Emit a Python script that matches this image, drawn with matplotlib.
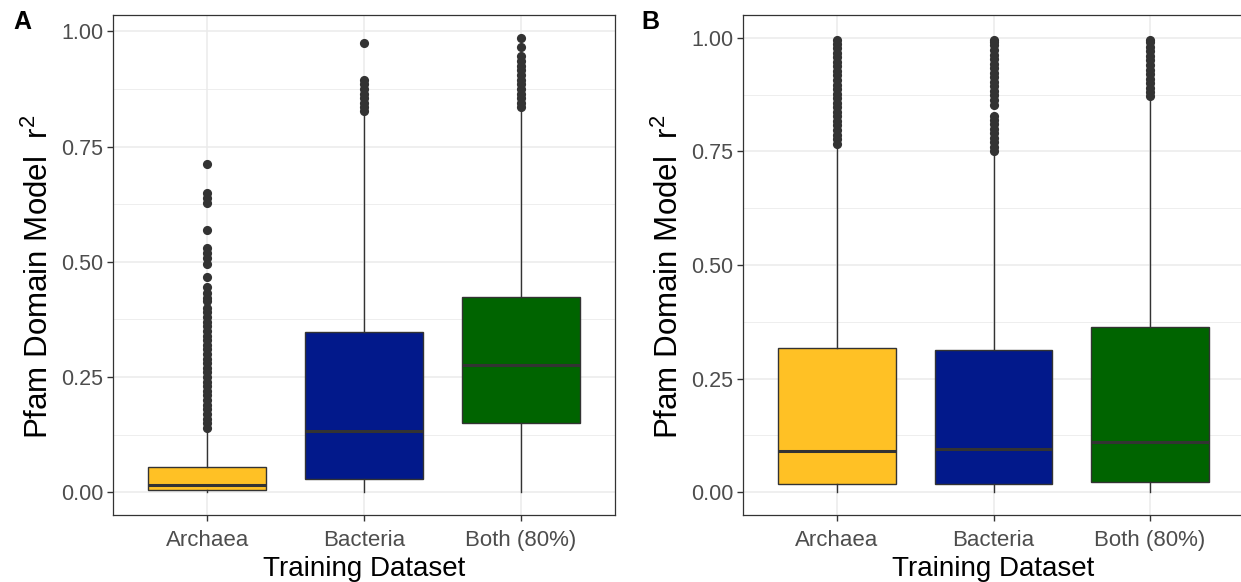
import numpy as np
import matplotlib.pyplot as plt
from matplotlib.ticker import MultipleLocator

plt.rcParams['font.family'] = ['Liberation Sans', 'DejaVu Sans']
plt.rcParams['mathtext.fontset'] = 'custom'
plt.rcParams['mathtext.rm'] = 'Liberation Sans'

# categories and colours
groups = ['Archaea', 'Bacteria', 'Both (80%)']
fills = ['#FFC125', '#02198B', '#006400']

# panel A box statistics (whisker low, q1, median, q3, whisker high)
a_whislo = [0.0, 0.0, 0.0]
a_q1 = [0.004, 0.028, 0.151]
a_med = [0.016, 0.133, 0.277]
a_q3 = [0.055, 0.347, 0.424]
a_whishi = [0.134, 0.822, 0.830]
a_fliers = [
    [0.14, 0.15, 0.16, 0.17, 0.18, 0.19, 0.20, 0.21, 0.22, 0.23, 0.24, 0.25,
     0.26, 0.27, 0.28, 0.29, 0.30, 0.31, 0.32, 0.33, 0.34, 0.35, 0.36, 0.37,
     0.38, 0.39, 0.40, 0.415, 0.422, 0.433, 0.446, 0.468, 0.496, 0.509,
     0.520, 0.530, 0.570, 0.628, 0.638, 0.649, 0.713],
    [0.827, 0.835, 0.845, 0.855, 0.865, 0.875, 0.885, 0.894, 0.975],
    [0.836, 0.845, 0.855, 0.865, 0.875, 0.885, 0.895, 0.905, 0.915, 0.925,
     0.935, 0.947, 0.966, 0.986],
]

# panel B box statistics
b_whislo = [0.0, 0.0, 0.0]
b_q1 = [0.018, 0.019, 0.022]
b_med = [0.091, 0.095, 0.111]
b_q3 = [0.317, 0.312, 0.364]
b_whishi = [0.765, 0.748, 0.868]
b_fliers = [
    [0.767, 0.777, 0.787, 0.797, 0.807, 0.817, 0.827, 0.837, 0.847, 0.857,
     0.867, 0.877, 0.887, 0.897, 0.907, 0.917, 0.927, 0.937, 0.947, 0.957,
     0.967, 0.977, 0.987, 0.996],
    [0.751, 0.760, 0.770, 0.780, 0.790, 0.800, 0.810, 0.820, 0.828,
     0.853, 0.863, 0.873, 0.883, 0.893, 0.903, 0.913, 0.923, 0.933, 0.943,
     0.953, 0.963, 0.973, 0.983, 0.990, 0.996],
    [0.871, 0.880, 0.890, 0.900, 0.910, 0.920, 0.930, 0.940, 0.950, 0.960,
     0.970, 0.980, 0.990, 0.996],
]

yticks = [0.0, 0.25, 0.50, 0.75, 1.00]
ytick_labels = ['0.00', '0.25', '0.50', '0.75', '1.00']

dark = '#333333'
W, H = 1241, 582
fig = plt.figure(figsize=(W / 100, H / 100), dpi=100)
fig.patch.set_facecolor('white')

ax_a = fig.add_axes([113 / W, 1 - 515 / H, (615 - 113) / W, 500 / H])
ax_b = fig.add_axes([743 / W, 1 - 515 / H, (1244 - 743) / W, 500 / H])


def draw_panel(ax, whislo, q1, med, q3, whishi, fliers, ylim):
    stats = []
    for i in range(len(groups)):
        stats.append(dict(whislo=whislo[i], q1=q1[i], med=med[i], q3=q3[i],
                          whishi=whishi[i], fliers=fliers[i], label=groups[i]))
    bp = ax.bxp(stats, positions=[1, 2, 3], widths=0.75, patch_artist=True,
                showcaps=False,
                boxprops=dict(edgecolor=dark, linewidth=1.0),
                whiskerprops=dict(color=dark, linewidth=1.0),
                medianprops=dict(color=dark, linewidth=2.2, solid_capstyle='butt'),
                flierprops=dict(marker='o', markerfacecolor=dark,
                                markeredgecolor='none', markersize=6.6))
    for patch, c in zip(bp['boxes'], fills):
        patch.set_facecolor(c)

    ax.set_xlim(0.4, 3.6)
    ax.set_ylim(*ylim)
    ax.set_yticks(yticks)
    ax.set_yticklabels(ytick_labels)
    ax.yaxis.set_minor_locator(MultipleLocator(0.125))
    ax.set_axisbelow(True)
    ax.grid(which='major', color='#EBEBEB', linewidth=1.1)
    ax.grid(which='minor', axis='y', color='#EBEBEB', linewidth=0.6)
    ax.tick_params(which='minor', length=0)
    ax.tick_params(which='major', length=4.5, width=1.0, color=dark,
                   labelcolor='#4D4D4D', pad=2.5)
    ax.tick_params(axis='y', labelsize=15.5)
    ax.tick_params(axis='x', labelsize=16, pad=6)
    for s in ax.spines.values():
        s.set_color(dark)
        s.set_linewidth(0.9)
    ax.set_xlabel('Training Dataset', fontsize=20, color='black', labelpad=4)
    ax.set_ylabel(r'Pfam Domain Model  $\mathregular{r^2}$', fontsize=22.5,
                  color='black', labelpad=4)
    ax.yaxis.label.set_y(0.476)


draw_panel(ax_a, a_whislo, a_q1, a_med, a_q3, a_whishi, a_fliers,
           (-0.0493, 1.0353))
draw_panel(ax_b, b_whislo, b_q1, b_med, b_q3, b_whishi, b_fliers,
           (-0.05, 1.05))

fig.text(22 / W, 1 - 22 / H, 'A', fontsize=18, fontweight='bold',
         ha='center', va='center')
fig.text(650 / W, 1 - 22 / H, 'B', fontsize=18, fontweight='bold',
         ha='center', va='center')

fig.savefig('out.png', dpi=100)
